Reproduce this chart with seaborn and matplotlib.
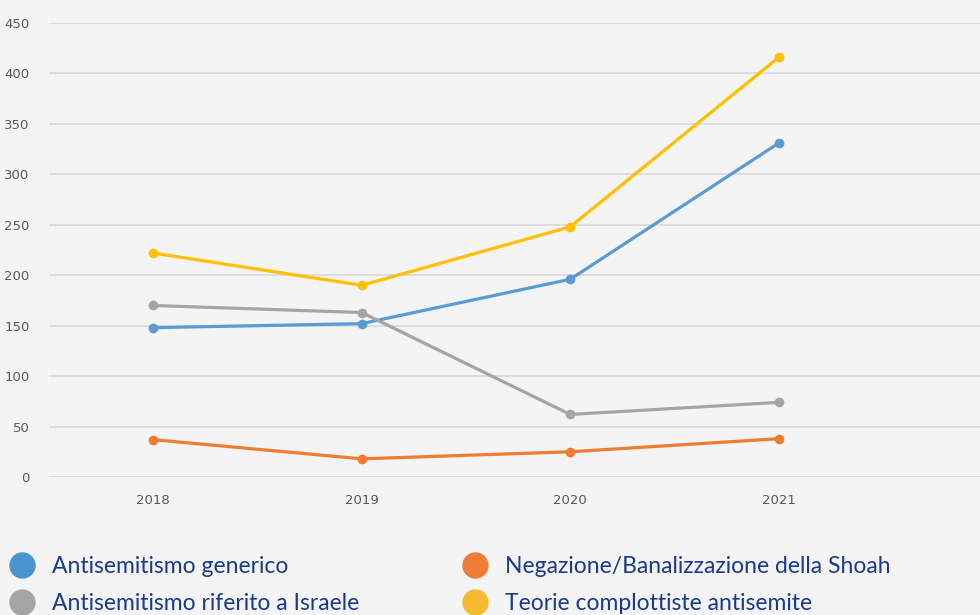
import matplotlib.pyplot as plt
import pandas as pd
import seaborn as sns
from matplotlib.lines import Line2D

# Data
years = [2018, 2019, 2020, 2021]
generico = [148, 152, 196, 331]
shoah = [37, 18, 25, 38]
israele = [170, 163, 62, 74]
complotto = [222, 190, 248, 416]

series_names = [
    "Antisemitismo generico",
    "Negazione/Banalizzazione della Shoah",
    "Antisemitismo riferito a Israele",
    "Teorie complottiste antisemite",
]
line_colors = ["#5b9bd5", "#ed7d31", "#a5a5a5", "#ffc000"]
legend_colors = ["#4a95d0", "#f07c3a", "#a5a5a5", "#f5bb30"]

df = pd.DataFrame({
    "year": years * 4,
    "value": generico + shoah + israele + complotto,
    "serie": [n for n in series_names for _ in years],
})

sns.set_style("white")
plt.rcParams["font.family"] = ["DejaVu Sans"]

bg = "#f4f4f4"
fig = plt.figure(figsize=(9.8, 6.15), dpi=100, facecolor=bg)
ax = fig.add_axes([0.05, 1 - 477 / 615, 0.95, 454 / 615])
ax.set_facecolor(bg)

sns.lineplot(data=df, x="year", y="value", hue="serie", hue_order=series_names,
             palette=line_colors, marker="o", markersize=7, markeredgewidth=0,
             linewidth=2.3, legend=False, ax=ax, zorder=3)

ax.set_xlim(2017.5, 2021.965)
ax.set_ylim(0, 450)
ax.set_yticks(range(0, 451, 50))
ax.set_xticks(years)
ax.set_xticklabels([str(y) for y in years])
ax.grid(axis="y", color="#d9d9d9", linewidth=1.2)
ax.grid(axis="x", visible=False)
for s in ax.spines.values():
    s.set_visible(False)
ax.tick_params(axis="both", length=0, labelsize=9.5, labelcolor="#595959")
ax.tick_params(axis="y", pad=14)
ax.tick_params(axis="x", pad=12)
ax.set_xlabel("")
ax.set_ylabel("")

# Legend at the bottom, two columns
handles = [Line2D([], [], linestyle="none", marker="o", markersize=19,
                  markerfacecolor=c, markeredgewidth=0) for c in legend_colors]
order = [0, 2, 1, 3]
leg = fig.legend([handles[i] for i in order], [series_names[i] for i in order],
                 ncol=2, loc="upper left", bbox_to_anchor=(-0.010, 1 - 535 / 615),
                 frameon=False, handlelength=1.0, handletextpad=0.8,
                 columnspacing=4.55, labelspacing=0.72,
                 prop={"family": "Lato", "size": 16.5})
for t in leg.get_texts():
    t.set_color("#1a3a8c")

fig.savefig("out.png", dpi=100, facecolor=bg)
